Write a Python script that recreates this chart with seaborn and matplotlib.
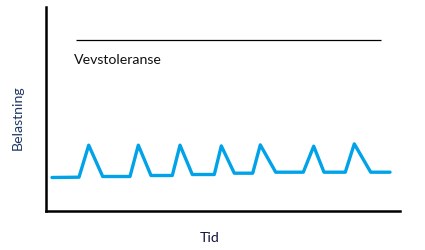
import matplotlib
matplotlib.use("Agg")
import matplotlib.pyplot as plt
import seaborn as sns
import pandas as pd

# Data (arbitrary units)
tid = [52, 79, 88.7, 102.7, 130, 138.3, 151, 172.3, 180, 192.3, 214.3, 221.3,
       234.3, 252.7, 260.3, 275.7, 303.3, 313.7, 324, 345.3, 354.3, 370.7, 390]
belastning = [33.7, 34, 66, 34.7, 34.7, 66, 35.7, 35.7, 66, 36.7, 36.7, 65.3,
              38, 38, 66.3, 39, 39, 65, 39, 39, 67.3, 39, 39]
toleranse_niva = 171.7
toleranse_start, toleranse_slutt = 76, 381
toleranse_tekst = "Vevstoleranse"
x_tittel = "Tid"
y_tittel = "Belastning"

sns.set_style("white")
plt.rcParams['font.family'] = ['Lato', 'DejaVu Sans']

df = pd.DataFrame({"Tid": tid, "Belastning": belastning})

fig = plt.figure(figsize=(4.25, 2.51), dpi=100)
ax = fig.add_axes([45.5 / 425, (251 - 212.2) / 251, (400 - 45.5) / 425, (212.2 - 8) / 251])

sns.lineplot(data=df, x="Tid", y="Belastning", sort=False, ax=ax,
             color="#00a2e8", linewidth=2.4)

ax.hlines(toleranse_niva, toleranse_start, toleranse_slutt, color="black", linewidth=0.9)
ax.text(74, 152, toleranse_tekst, fontsize=10.2, color="#111111", va="center", ha="left")

ax.set_xlim(45.5, 400)
ax.set_ylim(0, 204.2)
ax.set_xticks([])
ax.set_yticks([])

for s in ["top", "right"]:
    ax.spines[s].set_visible(False)
for s in ["left", "bottom"]:
    ax.spines[s].set_color("black")
    ax.spines[s].set_linewidth(1.8)

ax.set_xlabel(x_tittel, fontsize=10.2, color="#10123a")
ax.set_ylabel(y_tittel, fontsize=10.2, color="#1f3864")
ax.xaxis.set_label_coords((209.5 - 45.5) / 354.5, (212.2 - 232) / 204.2)
ax.yaxis.set_label_coords((24 - 45.5) / 354.5, (212.2 - 117.5) / 204.2)

fig.savefig("out.png", dpi=100)
